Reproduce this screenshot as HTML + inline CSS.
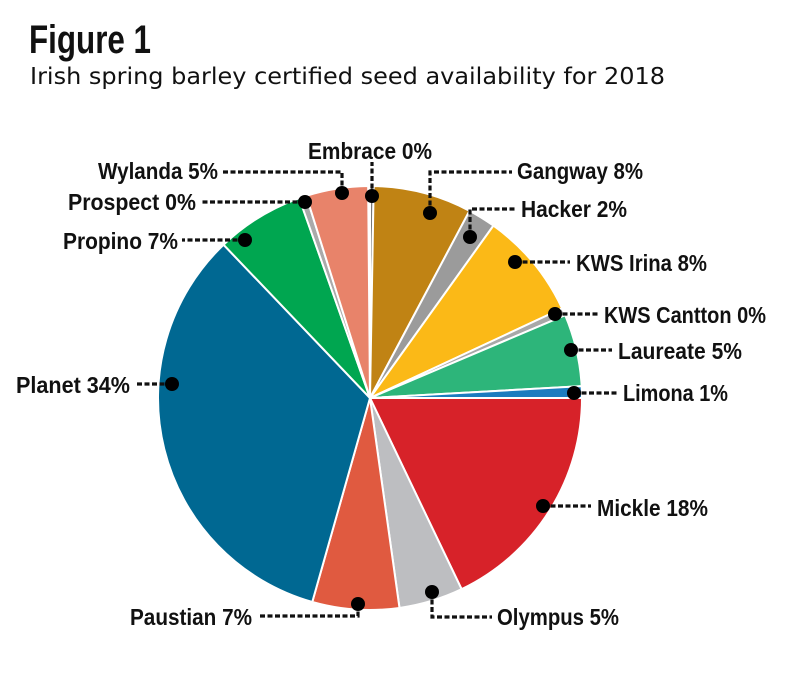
<!DOCTYPE html>
<html><head><meta charset="utf-8"><style>
html,body{margin:0;padding:0;background:#fff;}
svg{display:block;}
text{font-family:"Liberation Sans Narrow","Liberation Sans",sans-serif;fill:#111;}
</style></head><body>
<svg id="s" width="790" height="682" viewBox="0 0 790 682" xmlns="http://www.w3.org/2000/svg">
<text x="29" y="53" font-size="40" font-weight="bold" textLength="122" lengthAdjust="spacingAndGlyphs">Figure 1</text>
<text x="30" y="84" font-size="23" textLength="635" lengthAdjust="spacingAndGlyphs" style="font-family:'DejaVu Sans',sans-serif">Irish spring barley certified seed availability for 2018</text>
<g id="pie"></g>
<g id="lead" stroke="#111" stroke-width="3.2" stroke-dasharray="5,2.5" fill="none">
<polyline points="372,196 372,162"/>
<polyline points="342,193 342,172 222,172"/>
<polyline points="430,213 430,172 512,172"/>
<polyline points="470,237 470,209 516,209"/>
<polyline points="305,202 200,202"/>
<polyline points="245,240 182,240"/>
<polyline points="515,262 570,262"/>
<polyline points="555,314 598,314"/>
<polyline points="571,350 612,350"/>
<polyline points="574,393 617,393"/>
<polyline points="172,384 135,384"/>
<polyline points="543,506 591,506"/>
<polyline points="432,592 432,617 492,617"/>
<polyline points="358,604 358,616 258,616"/>
</g>
<g fill="#000">
<circle cx="372" cy="196" r="7"/><circle cx="342" cy="193" r="7"/><circle cx="430" cy="213" r="7"/>
<circle cx="470" cy="237" r="7"/><circle cx="305" cy="202" r="7"/><circle cx="245" cy="240" r="7"/>
<circle cx="515" cy="262" r="7"/><circle cx="555" cy="314" r="7"/><circle cx="571" cy="350" r="7"/>
<circle cx="574" cy="393" r="7"/><circle cx="172" cy="384" r="7"/><circle cx="543" cy="506" r="7"/>
<circle cx="432" cy="592" r="7"/><circle cx="358" cy="604" r="7"/>
</g>
<g font-size="23" font-weight="bold">
<text x="308" y="159" textLength="124" lengthAdjust="spacingAndGlyphs">Embrace 0%</text>
<text x="98" y="179" textLength="120" lengthAdjust="spacingAndGlyphs">Wylanda 5%</text>
<text x="517" y="179" textLength="126" lengthAdjust="spacingAndGlyphs">Gangway 8%</text>
<text x="521" y="217" textLength="106" lengthAdjust="spacingAndGlyphs">Hacker 2%</text>
<text x="68" y="210" textLength="128" lengthAdjust="spacingAndGlyphs">Prospect 0%</text>
<text x="63" y="249" textLength="115" lengthAdjust="spacingAndGlyphs">Propino 7%</text>
<text x="576" y="271" textLength="131" lengthAdjust="spacingAndGlyphs">KWS Irina 8%</text>
<text x="604" y="323" textLength="162" lengthAdjust="spacingAndGlyphs">KWS Cantton 0%</text>
<text x="618" y="359" textLength="124" lengthAdjust="spacingAndGlyphs">Laureate 5%</text>
<text x="623" y="401" textLength="105" lengthAdjust="spacingAndGlyphs">Limona 1%</text>
<text x="16" y="393" textLength="114" lengthAdjust="spacingAndGlyphs">Planet 34%</text>
<text x="597" y="516" textLength="111" lengthAdjust="spacingAndGlyphs">Mickle 18%</text>
<text x="497" y="625" textLength="122" lengthAdjust="spacingAndGlyphs">Olympus 5%</text>
<text x="130" y="625" textLength="122" lengthAdjust="spacingAndGlyphs">Paustian 7%</text>
</g>
</svg>
<script>
(function(){
var cx=370,cy=398,r=212;
var sl=[[0,1,"#777"],[1,28,"#c08314"],[28,35.6,"#9b9b9b"],[35.6,65,"#fbb917"],[65,67,"#a8a8a8"],[67,86.8,"#2db57a"],[86.8,90,"#1b7cbf"],[90,154.4,"#d72229"],[154.4,172,"#bdbec1"],[172,195.8,"#e05a40"],[195.8,316.3,"#006892"],[316.3,340.5,"#00a650"],[340.5,342.5,"#aaaaaa"],[342.5,359.5,"#e8836a"]];
function pt(a){a=a*Math.PI/180;return [cx+r*Math.sin(a),cy-r*Math.cos(a)];}
var g=document.getElementById("pie"),h="";
h+='<circle cx="'+cx+'" cy="'+cy+'" r="'+r+'" fill="#777"/>';
sl.forEach(function(s){var p=pt(s[0]),q=pt(s[1]);var la=(s[1]-s[0])>180?1:0;
h+='<path d="M'+cx+','+cy+' L'+p[0]+','+p[1]+' A'+r+','+r+' 0 '+la+' 1 '+q[0]+','+q[1]+' Z" fill="'+s[2]+'" stroke="#fff" stroke-width="2"/>';});
g.innerHTML=h;
})();
</script>
</body></html>
